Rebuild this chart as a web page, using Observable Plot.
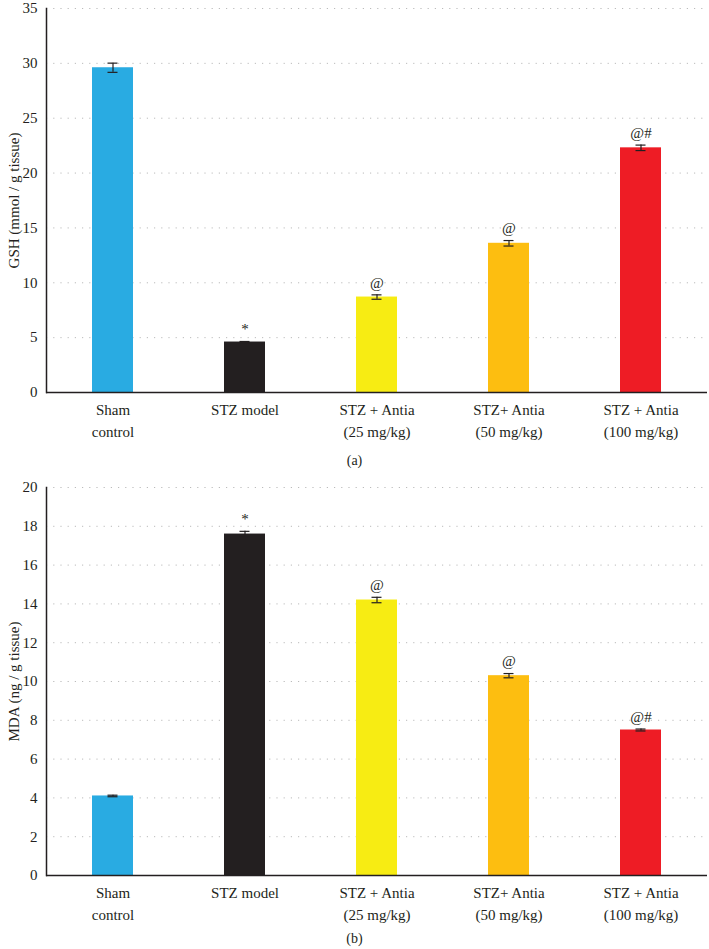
<!DOCTYPE html>
<html><head><meta charset="utf-8">
<script src="https://cdn.jsdelivr.net/npm/d3@7"></script>
<script src="https://cdn.jsdelivr.net/npm/@observablehq/plot@0.6"></script>
<style>
body{margin:0;background:#fff;font-family:"Liberation Serif",serif;}
.cap{text-align:center;font-size:14px;color:#231F20;font-family:"Liberation Serif",serif;}
</style>
</head><body><div id="chart"></div>
<script>
const groups = ["Sham\ncontrol", "STZ model", "STZ + Antia\n(25 mg/kg)", "STZ+ Antia\n(50 mg/kg)", "STZ + Antia\n(100 mg/kg)"];
const colors = ["#29ABE2", "#231F20", "#F7EC13", "#FDBE10", "#EE1C25"];

const gshValues = [29.6, 4.6, 8.7, 13.6, 22.3];
const gshErrors = [0.42, 0.05, 0.2, 0.25, 0.25];
const gshMarks = ["", "*", "@", "@", "@#"];
const gshTicks = [0, 5, 10, 15, 20, 25, 30, 35];

const mdaValues = [4.1, 17.6, 14.2, 10.3, 7.5];
const mdaErrors = [0.04, 0.14, 0.14, 0.11, 0.05];
const mdaMarks = ["", "*", "@", "@", "@#"];
const mdaTicks = [0, 2, 4, 6, 8, 10, 12, 14, 16, 18, 20];

function panel(values, errors, marks, ticks, label, height, marginTop, marginBottom) {
  const data = groups.map((g, i) => ({group: g, value: values[i], lo: values[i] - errors[i], hi: values[i] + errors[i], mark: marks[i]}));
  return Plot.plot({
    width: 709,
    height,
    marginLeft: 46,
    marginRight: 2,
    marginTop,
    marginBottom,
    style: {fontFamily: "Liberation Serif, serif", fontSize: "15px", color: "#231F20", background: "#fff", overflow: "visible"},
    x: {domain: groups, paddingInner: 0.69, paddingOuter: 0.345, align: 0.5},
    y: {domain: [ticks[0], ticks[ticks.length - 1]]},
    color: {domain: groups, range: colors},
    marks: [
      Plot.gridY(ticks.slice(1), {stroke: "#bbb", strokeOpacity: 1, strokeDasharray: "1.2,6", strokeWidth: 1}),
      Plot.barY(data, {x: "group", y: "value", fill: "group"}),
      Plot.ruleX(data, {x: "group", y1: "lo", y2: "hi", stroke: "#231F20", strokeWidth: 1.2}),
      Plot.tickY(data, {x: "group", y: "lo", stroke: "#231F20", strokeWidth: 1.2, inset: 15.5}),
      Plot.tickY(data, {x: "group", y: "hi", stroke: "#231F20", strokeWidth: 1.2, inset: 15.5}),
      Plot.text(data, {x: "group", y: "hi", text: "mark", dy: -12, fontSize: 15, fill: "#231F20"}),
      Plot.axisY(ticks, {tickSize: 0, tickPadding: 9, fontSize: 15, label, labelAnchor: "center", labelArrow: "none", labelOffset: 38}),
      Plot.axisX({tickSize: 0, tickPadding: 7, fontSize: 15, lineHeight: 1.45, label: null}),
      Plot.ruleY([ticks[0]], {stroke: "#231F20", strokeWidth: 1.5}),
      Plot.frame({anchor: "left", stroke: "#231F20", strokeWidth: 1.5})
    ]
  });
}

const root = document.getElementById("chart");
root.appendChild(panel(gshValues, gshErrors, gshMarks, gshTicks, "GSH (mmol / g tissue)", 445, 8, 53));
const capA = document.createElement("div");
capA.className = "cap"; capA.style.height = "35px"; capA.style.lineHeight = "32px"; capA.textContent = "(a)";
root.appendChild(capA);
root.appendChild(panel(mdaValues, mdaErrors, mdaMarks, mdaTicks, "MDA (ng / g tissue)", 449, 7, 54));
const capB = document.createElement("div");
capB.className = "cap"; capB.style.height = "20px"; capB.style.lineHeight = "20px"; capB.textContent = "(b)";
root.appendChild(capB);
</script>
</body></html>
